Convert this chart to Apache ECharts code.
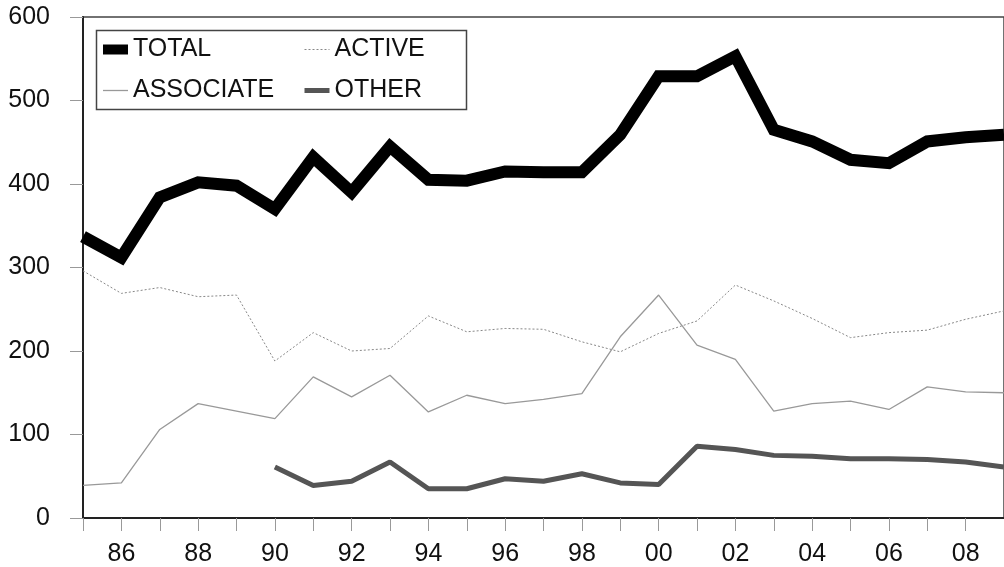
<!DOCTYPE html>
<html>
<head>
<meta charset="utf-8">
<script src="https://cdn.jsdelivr.net/npm/echarts@6/dist/echarts.min.js"></script>
<style>
html,body{margin:0;padding:0;background:#fff;}
#chart{width:1004px;height:567px;}
</style>
</head>
<body>
<div id="chart"></div>
<script>
const years = ['85','86','87','88','89','90','91','92','93','94','95','96','97','98','99','00','01','02','03','04','05','06','07','08','09'];
const total = [337,312,384,402,398,370,432,390,445,405,404,415,414,414,459,529,529,553,465,451,429,425,451,456,459];
const active = [296,269,276,265,267,188,222,200,203,242,223,227,226,211,199,221,236,279,260,239,216,222,225,238,248];
const associate = [39,42,106,137,128,119,169,145,171,127,147,137,142,149,217,267,207,190,128,137,140,130,157,151,150];
const other = [null,null,null,null,null,61,39,44,67,35,35,47,44,53,42,40,86,82,75,74,71,71,70,67,61];

const FONT = 'Liberation Sans, Arial, sans-serif';
const legendText = { fontFamily: FONT, fontSize: 25, color: '#111', lineHeight: 24 };
const chart = echarts.init(document.getElementById('chart'));
chart.setOption({
  animation: false,
  backgroundColor: '#fff',
  grid: { left: 83, right: -5, top: 17, bottom: 48, show: true, borderColor: '#444', borderWidth: 1.5 },
  legend: [
    { data: [
        { name: 'TOTAL', lineStyle: { width: 10, color: '#000' } },
        { name: 'ASSOCIATE', lineStyle: { width: 1.3, color: '#999' } }
      ],
      orient: 'vertical', left: 93, top: 32, itemWidth: 25, itemHeight: 14, itemGap: 16,
      itemStyle: { opacity: 0 }, textStyle: legendText },
    { data: [
        { name: 'ACTIVE', lineStyle: { width: 1, color: '#888', type: [2, 2] } },
        { name: 'OTHER', lineStyle: { width: 5, color: '#555' } }
      ],
      orient: 'vertical', left: 297, top: 32, itemWidth: 25, itemHeight: 14, itemGap: 16,
      itemStyle: { opacity: 0 }, textStyle: legendText }
  ],
  graphic: [
    { type: 'rect', left: 94, top: 28, shape: { x: 0, y: 0, width: 370, height: 79 }, style: { fill: 'none', stroke: '#444', lineWidth: 1.5 }, z: 10 }
  ],
  xAxis: {
    type: 'category', data: years, boundaryGap: false,
    axisLine: { lineStyle: { color: '#222', width: 2 } },
    axisTick: { show: true, interval: 0, length: 13, lineStyle: { color: '#999', width: 1 } },
    axisLabel: { interval: (i) => i % 2 === 1, margin: 24, fontFamily: FONT, fontSize: 25, color: '#111' },
    splitLine: { show: false }
  },
  yAxis: {
    type: 'value', min: 0, max: 600, interval: 100,
    axisLine: { show: true, lineStyle: { color: '#222', width: 2 } },
    axisTick: { show: true, length: 13, lineStyle: { color: '#999', width: 1 } },
    axisLabel: { margin: 33, fontFamily: FONT, fontSize: 25, color: '#111' },
    splitLine: { show: false }
  },
  series: [
    { name: 'TOTAL', type: 'line', data: total, symbol: 'none', z: 5,
      lineStyle: { color: '#000', width: 12, join: 'miter' }, itemStyle: { color: '#000' } },
    { name: 'ACTIVE', type: 'line', data: active, symbol: 'none', z: 3,
      lineStyle: { color: '#888', width: 1, type: [2, 2] }, itemStyle: { color: '#888' } },
    { name: 'ASSOCIATE', type: 'line', data: associate, symbol: 'none', z: 3,
      lineStyle: { color: '#999', width: 1.3 }, itemStyle: { color: '#999' } },
    { name: 'OTHER', type: 'line', data: other, symbol: 'none', z: 4,
      lineStyle: { color: '#555', width: 5 }, itemStyle: { color: '#555' } }
  ]
});
</script>
</body>
</html>
